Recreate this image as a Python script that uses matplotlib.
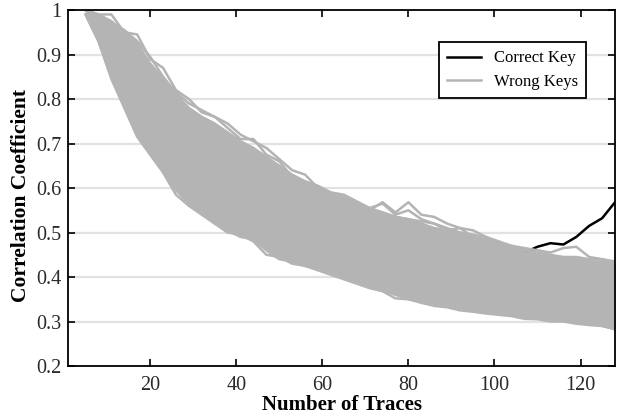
import matplotlib
matplotlib.use("Agg")
import matplotlib.pyplot as plt
from matplotlib.ticker import FixedLocator, FixedFormatter

# ---- data ----
traces = [5, 8, 11, 14, 17, 20, 23, 26, 29, 32, 35, 38, 41, 44, 47, 50, 53, 56,
          59, 62, 65, 68, 71, 74, 77, 80, 83, 86, 89, 92, 95, 98, 101, 104, 107,
          110, 113, 116, 119, 122, 125, 128]

wrong_upper = [1.0, 0.99, 0.975, 0.95, 0.925, 0.88, 0.845, 0.81, 0.78, 0.76, 0.745,
               0.725, 0.705, 0.69, 0.67, 0.65, 0.63, 0.615, 0.60, 0.585, 0.575, 0.565,
               0.555, 0.545, 0.535, 0.53, 0.52, 0.51, 0.505, 0.50, 0.49, 0.48, 0.475,
               0.465, 0.455, 0.45, 0.445, 0.44, 0.44, 0.435, 0.435, 0.43]

wrong_lower = [0.99, 0.93, 0.85, 0.79, 0.72, 0.68, 0.64, 0.595, 0.565, 0.545, 0.525,
               0.505, 0.49, 0.485, 0.46, 0.44, 0.435, 0.425, 0.42, 0.41, 0.40, 0.39,
               0.38, 0.37, 0.36, 0.35, 0.345, 0.34, 0.335, 0.33, 0.325, 0.32, 0.318,
               0.315, 0.31, 0.307, 0.305, 0.302, 0.30, 0.295, 0.29, 0.285]

wrong_a = [1.0, 0.985, 0.97, 0.955, 0.93, 0.895, 0.85, 0.815, 0.79, 0.775, 0.76,
           0.745, 0.72, 0.705, 0.69, 0.665, 0.64, 0.63, 0.60, 0.59, 0.585, 0.57,
           0.555, 0.565, 0.54, 0.55, 0.53, 0.52, 0.505, 0.51, 0.49, 0.485, 0.475,
           0.47, 0.46, 0.455, 0.45, 0.445, 0.445, 0.44, 0.44, 0.43]

wrong_b = [1.0, 0.975, 0.96, 0.94, 0.91, 0.87, 0.835, 0.80, 0.77, 0.755, 0.74,
           0.72, 0.70, 0.68, 0.665, 0.645, 0.625, 0.61, 0.595, 0.58, 0.57, 0.56,
           0.55, 0.568, 0.545, 0.568, 0.54, 0.535, 0.52, 0.51, 0.505, 0.49, 0.48,
           0.47, 0.465, 0.46, 0.455, 0.465, 0.468, 0.445, 0.44, 0.435]

wrong_c = [1.0, 0.99, 0.99, 0.95, 0.945, 0.89, 0.87, 0.82, 0.80, 0.77, 0.76,
           0.735, 0.71, 0.71, 0.675, 0.66, 0.625, 0.615, 0.605, 0.59, 0.58, 0.565,
           0.55, 0.545, 0.535, 0.53, 0.525, 0.52, 0.51, 0.50, 0.495, 0.49, 0.478,
           0.46, 0.455, 0.45, 0.447, 0.442, 0.44, 0.435, 0.43, 0.43]

wrong_d = [0.99, 0.93, 0.845, 0.78, 0.715, 0.675, 0.635, 0.585, 0.56, 0.54, 0.52,
           0.50, 0.495, 0.48, 0.45, 0.445, 0.43, 0.425, 0.415, 0.405, 0.395, 0.385,
           0.375, 0.368, 0.352, 0.35, 0.342, 0.335, 0.332, 0.325, 0.322, 0.318,
           0.315, 0.312, 0.306, 0.305, 0.30, 0.30, 0.295, 0.292, 0.29, 0.282]

correct_key = [1.0, 0.97, 0.95, 0.92, 0.89, 0.865, 0.82, 0.78, 0.75, 0.72, 0.70,
               0.68, 0.66, 0.64, 0.62, 0.60, 0.585, 0.566, 0.555, 0.545, 0.535,
               0.525, 0.513, 0.505, 0.495, 0.488, 0.48, 0.475, 0.47, 0.465, 0.462,
               0.46, 0.455, 0.452, 0.455, 0.468, 0.476, 0.473, 0.49, 0.515, 0.532,
               0.568]

x_ticks = [20, 40, 60, 80, 100, 120]
y_ticks = [0.2, 0.3, 0.4, 0.5, 0.6, 0.7, 0.8, 0.9, 1.0]
y_tick_labels = ["0.2", "0.3", "0.4", "0.5", "0.6", "0.7", "0.8", "0.9", "1"]

# ---- plotting ----
serif = ["Liberation Serif", "DejaVu Serif"]
gray = "#b4b4b4"

fig = plt.figure(figsize=(6.24, 4.17), dpi=100)
ax = fig.add_axes([0.1095, 0.1223, 0.8761, 0.8537])

for y in y_ticks[1:-1]:
    ax.axhline(y, color="#e2e2e2", lw=1.6, zorder=0)

ax.plot(traces, correct_key, color="black", lw=1.8, zorder=1, label="Correct Key")
ax.fill_between(traces, wrong_lower, wrong_upper, color=gray, lw=0, zorder=2)
for series in (wrong_a, wrong_b, wrong_c, wrong_d):
    ax.plot(traces, series, color=gray, lw=1.8, zorder=2)
ax.plot(traces, wrong_upper, color=gray, lw=1.8, zorder=2, label="Wrong Keys")
ax.plot(traces, wrong_lower, color=gray, lw=1.8, zorder=2)

ax.set_xlim(1, 128)
ax.set_ylim(0.2, 1.0)
ax.xaxis.set_major_locator(FixedLocator(x_ticks))
ax.yaxis.set_major_locator(FixedLocator(y_ticks))
ax.yaxis.set_major_formatter(FixedFormatter(y_tick_labels))
ax.tick_params(direction="in", length=5, width=1.2, top=True, right=True,
               labelsize=14.5)
ax.tick_params(axis="x", pad=7)
ax.tick_params(axis="y", pad=5)
for lab in ax.get_xticklabels() + ax.get_yticklabels():
    lab.set_family(serif)
    lab.set_color("#2a2a2a")
for sp in ax.spines.values():
    sp.set_linewidth(1.3)
    sp.set_zorder(5)

ax.set_xlabel("Number of Traces", family=serif, fontweight="bold", fontsize=15,
              labelpad=0)
ax.set_ylabel("Correlation Coefficient", family=serif, fontweight="bold",
              fontsize=15.5, labelpad=4)
ax.yaxis.set_label_coords(-0.068, 0.48)

leg = ax.legend(loc="upper left", bbox_to_anchor=(0.678, 0.910), borderaxespad=0,
                prop={"family": serif, "size": 12}, fancybox=False, framealpha=1,
                edgecolor="black", handlelength=2.0, borderpad=0.5,
                labelspacing=0.45, handletextpad=0.8)
leg.get_frame().set_linewidth(1.3)
leg.set_zorder(6)

fig.savefig("out.png", dpi=100)
